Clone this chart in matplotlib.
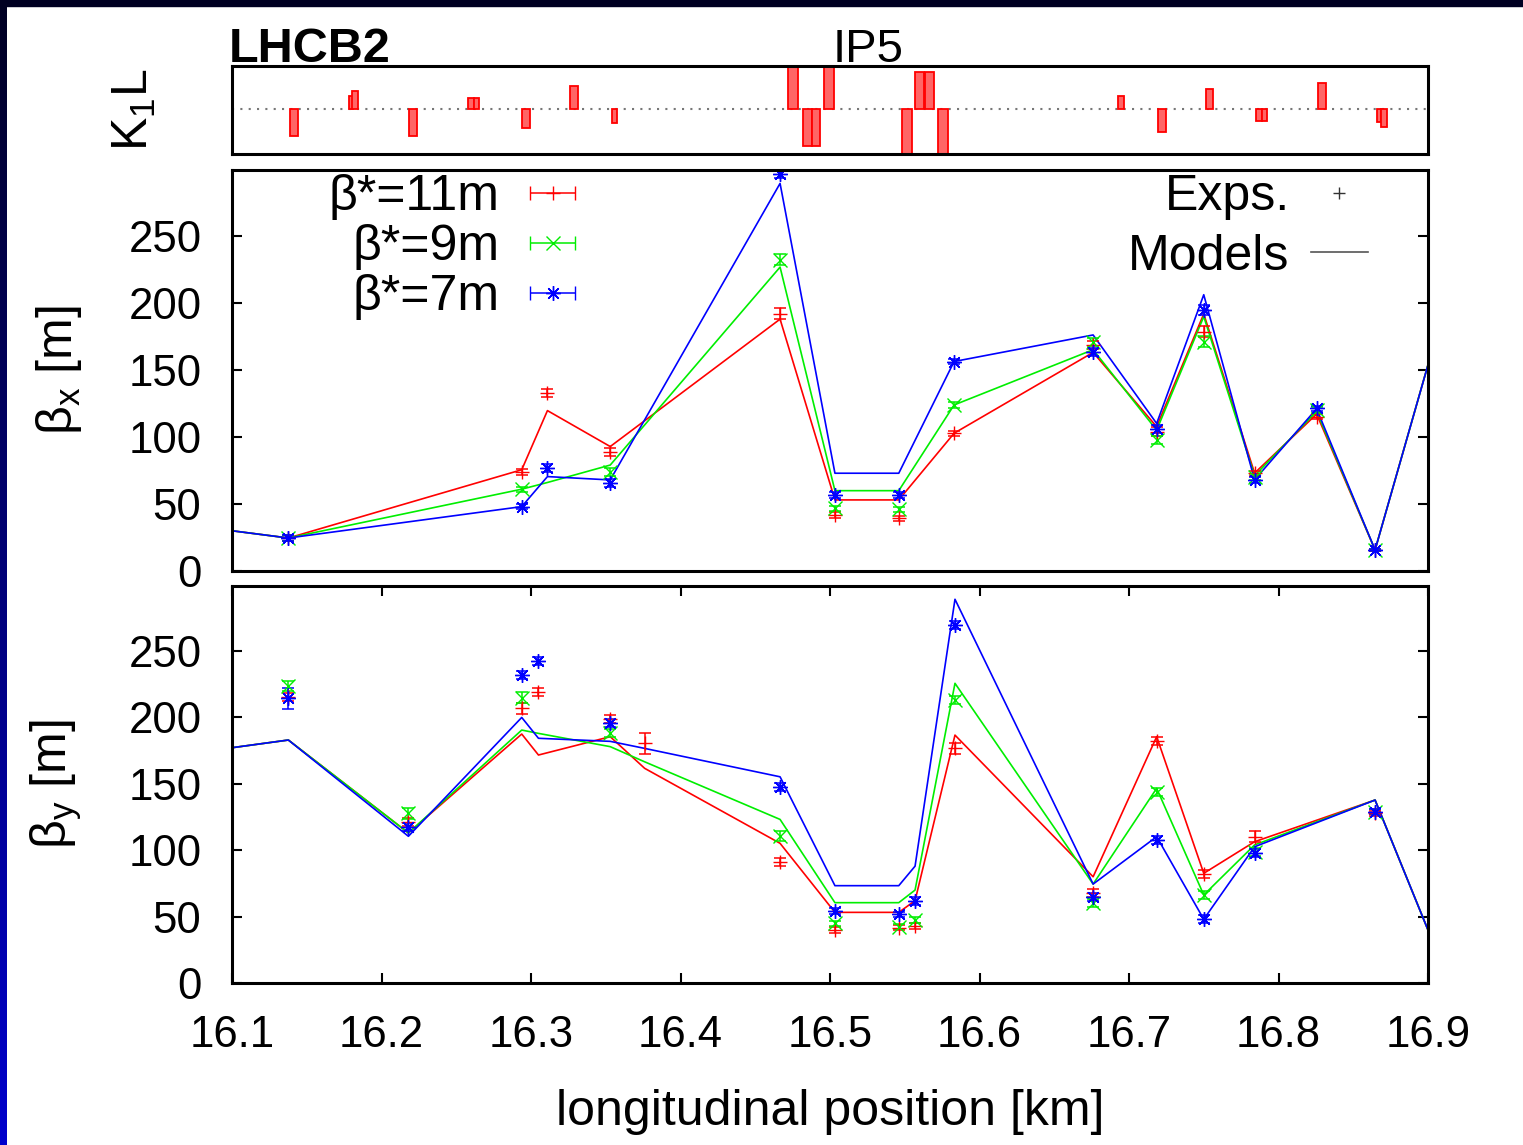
import numpy as np
import matplotlib
matplotlib.use("Agg")
import matplotlib.pyplot as plt
from matplotlib.lines import Line2D
from matplotlib.patches import Rectangle
from matplotlib.colors import LinearSegmentedColormap
from matplotlib.legend_handler import HandlerErrorbar

plt.rcParams["font.family"] = ["Liberation Sans", "DejaVu Sans"]
plt.rcParams["mathtext.fontset"] = "custom"
plt.rcParams["mathtext.rm"] = "Liberation Sans"
plt.rcParams["mathtext.it"] = "Liberation Sans:italic"

nan = np.nan

# optics configurations
labels = ["β*=11m", "β*=9m", "β*=7m"]

# measured beta-x (BPM positions in km)
bx_s = [16.1377, 16.2938, 16.3110, 16.3530, 16.4666, 16.5033, 16.5460,
        16.5830, 16.6760, 16.7185, 16.7500, 16.7840, 16.8255, 16.8646]
bx_11 = [24.6, 73.9, 132.6, 89.0, 192.0, 41.8, 39.3, 102.7, 168.6, 104.0, 178.5, 72.9, 115.0, 15.7]
bx_9 = [24.6, 61.0, nan, 73.6, 232.0, 46.8, 46.0, 123.8, 171.0, 97.7, 171.0, 70.0, 120.0, 15.7]
bx_7 = [24.6, 48.0, 76.6, 65.4, 296.0, 56.7, 56.7, 156.2, 163.6, 106.0, 194.7, 67.9, 121.4, 15.7]
bx_e11 = [2, 2, 3, 3, 4, 2, 2, 2, 3, 3, 4, 2, 2, 1]
bx_e9 = [2, 2, 0, 3, 4, 2, 2, 2, 3, 3, 4, 2, 2, 1]
bx_e7 = [2, 2, 3, 3, 3, 2, 2, 2, 3, 3, 4, 2, 2, 1]

# model beta-x
mx_s = [16.1, 16.1377, 16.2938, 16.3110, 16.3530, 16.4666, 16.5033, 16.5460,
        16.5830, 16.6760, 16.7185, 16.7500, 16.7840, 16.8255, 16.8646, 16.9]
mx_11 = [30, 24.6, 75.5, 119.6, 92.8, 187.8, 53.0, 53.0, 102.7, 163.0, 107.6, 191.7, 73.0, 117.0, 15.7, 153.7]
mx_9 = [30, 24.6, 61.0, 66.0, 79.0, 226.6, 59.9, 59.9, 123.8, 165.0, 105.0, 189.7, 71.0, 119.0, 15.7, 153.7]
mx_7 = [30, 24.6, 48.0, 70.4, 67.9, 289.0, 72.9, 72.9, 156.2, 176.0, 110.0, 206.0, 68.0, 121.0, 15.7, 153.7]

# measured beta-y
by_s = [16.1377, 16.2180, 16.2938, 16.3050, 16.3530, 16.3760, 16.4666, 16.5033,
        16.5460, 16.5569, 16.5836, 16.6760, 16.7185, 16.7500, 16.7840, 16.8646]
by_11 = [215.6, 121.0, 206.8, 219.4, 198.5, 180.5, 90.9, 39.9, 41.6, 42.9, 176.7, 67.5, 182.2, 81.8, 110.2, 127.8]
by_9 = [223.6, 127.8, 215.0, nan, 188.0, nan, 110.7, 45.0, 42.4, 47.4, 213.0, 60.0, 143.6, 66.3, 98.9, 129.0]
by_7 = [214.4, 117.7, 232.0, 242.5, 195.5, nan, 147.8, 54.2, 51.7, 62.0, 269.6, 65.0, 107.7, 48.0, 97.7, 129.0]
by_e11 = [3, 3, 4, 3, 3, 8, 3, 2, 2, 2, 4, 3, 3, 3, 4, 2]
by_e9 = [4, 4, 4, 0, 3, 0, 4, 2, 2, 2, 3, 3, 3, 3, 3, 2]
by_e7 = [8, 3, 3, 3, 3, 0, 3, 2, 2, 3, 3, 3, 3, 3, 3, 2]

# model beta-y
my_s = [16.1, 16.1377, 16.2180, 16.2938, 16.3050, 16.3530, 16.3760, 16.4666, 16.5033,
        16.5460, 16.5569, 16.5836, 16.6760, 16.7185, 16.7500, 16.7840, 16.8646, 16.9]
my_11 = [177.2, 183.0, 113.0, 187.5, 171.7, 185.5, 161.7, 105.2, 53.2, 53.2, 62.0, 186.7, 80.0, 185.5, 82.6, 106.4, 137.8, 39.9]
my_9 = [177.2, 183.0, 113.0, 190.5, 188.0, 178.0, 166.6, 123.2, 60.5, 60.5, 70.0, 225.7, 74.5, 146.6, 66.3, 104.0, 137.8, 39.9]
my_7 = [177.2, 183.0, 110.5, 200.0, 184.3, 182.0, 176.7, 155.3, 73.3, 73.3, 88.0, 289.0, 74.5, 110.2, 48.0, 102.6, 137.8, 39.9]

# quadrupole strengths (start [km], length [km], K1L arb. units)
k_s = [16.1389, 16.1783, 16.1805, 16.2186, 16.2577, 16.2616, 16.2943, 16.3262, 16.3540,
       16.4719, 16.4817, 16.4878, 16.4961, 16.5482, 16.5571, 16.5638, 16.5722,
       16.6928, 16.7195, 16.7513, 16.7852, 16.7888, 16.8265, 16.8659, 16.8688]
k_len = [0.0050, 0.0026, 0.0036, 0.0049, 0.0039, 0.0036, 0.0050, 0.0050, 0.0036,
         0.0064, 0.0061, 0.0055, 0.0066, 0.0065, 0.0055, 0.0055, 0.0064,
         0.0036, 0.0050, 0.0048, 0.0036, 0.0036, 0.0052, 0.0029, 0.0036]
k_val = [-0.64, 0.30, 0.42, -0.62, 0.26, 0.26, -0.45, 0.53, -0.32,
         1.3, -0.87, -0.87, 1.3, -1.3, 0.85, 0.85, -1.3,
         0.31, -0.53, 0.46, -0.27, -0.27, 0.61, -0.30, -0.43]

colors = ["#ff0000", "#00ee00", "#0000ff"]
markers = ["+", "x", (8, 2, 0)]

W, H = 1523, 1145


def frac(x0, y0, x1, y1):
    return [x0 / W, 1 - y1 / H, (x1 - x0) / W, (y1 - y0) / H]


fig = plt.figure(figsize=(W / 100, H / 100), dpi=100)

# slide border
bax = fig.add_axes([0, 0, 7 / W, 1])
bax.imshow(np.linspace(0, 1, 256).reshape(-1, 1), aspect="auto", origin="upper",
           cmap=LinearSegmentedColormap.from_list("edge", ["#000022", "#0000cc"]),
           extent=[0, 1, 0, 1])
bax.axis("off")
fig.add_artist(Rectangle((0, 1 - 6 / H), 1, 6 / H, transform=fig.transFigure,
                         color="#000022", zorder=10))

ax_k = fig.add_axes(frac(232, 66, 1428, 154))
ax_x = fig.add_axes(frac(232, 170, 1428, 571))
ax_y = fig.add_axes(frac(232, 586, 1428, 983))

# K1L panel
ax_k.bar(k_s, k_val, width=k_len, align="edge", facecolor="#ff6666",
         edgecolor="#ff0000", linewidth=1.3, zorder=2)
ax_k.axhline(0, color="#777777", linestyle=(0, (1, 3)), linewidth=1.5, zorder=1)
ax_k.set_xlim(16.1, 16.9)
ax_k.set_ylim(-1.05, 1.0)
ax_k.set_xticks([])
ax_k.set_yticks([])
ax_k.set_ylabel("K$_1$L", fontsize=36)
ax_k.yaxis.set_label_coords(-0.062, 0.5)
ax_k.text(-0.003, 1.045, "LHCB2", transform=ax_k.transAxes, fontsize=35,
          fontweight="bold", va="baseline", ha="left")
ax_k.text(0.532, 1.045, "IP5", transform=ax_k.transAxes, fontsize=34,
          va="baseline", ha="center")

meas_x = [(bx_11, bx_e11), (bx_9, bx_e9), (bx_7, bx_e7)]
model_x = [mx_11, mx_9, mx_7]
meas_y = [(by_11, by_e11), (by_9, by_e9), (by_7, by_e7)]
model_y = [my_11, my_9, my_7]

for ax, s_meas, meas, s_mod, mods in [(ax_x, bx_s, meas_x, mx_s, model_x),
                                      (ax_y, by_s, meas_y, my_s, model_y)]:
    for (vals, errs), mod, c, m in zip(meas, mods, colors, markers):
        ax.plot(s_mod, mod, color=c, linewidth=1.2, zorder=3)
        ax.errorbar(s_meas, vals, yerr=errs, fmt="none", ecolor=c, elinewidth=1.1,
                    capsize=4.5, capthick=1.1, zorder=4)
        ax.plot(s_meas, vals, linestyle="none", marker=m, color=c, markersize=10.5,
                markeredgewidth=1.0, zorder=5)
    ax.set_xlim(16.1, 16.9)
    ax.set_ylim(0, 299)
    ax.set_yticks(np.arange(0, 251, 50))
    ax.tick_params(axis="y", direction="in", length=7, width=1.5, labelsize=31.5,
                   left=True, right=True, pad=22)

for ax in (ax_k, ax_x, ax_y):
    for sp in ax.spines.values():
        sp.set_linewidth(2.2)
        sp.set_zorder(6)

ax_x.tick_params(axis="x", bottom=False, labelbottom=False)
ax_y.set_xticks(np.arange(16.1, 16.91, 0.1))
ax_y.tick_params(axis="x", direction="in", length=7, width=1.5, labelsize=31.5,
                 top=True, bottom=True, pad=23)
ax_y.set_xticklabels([f"{v:.1f}" for v in np.arange(16.1, 16.91, 0.1)])

ax_x.set_ylabel(r"β$_\mathrm{x}$ [m]", fontsize=36)
ax_y.set_ylabel(r"β$_\mathrm{y}$ [m]", fontsize=36)
ax_x.yaxis.set_label_coords(-0.124, 0.5)
ax_y.yaxis.set_label_coords(-0.124, 0.5)
ax_y.set_xlabel("longitudinal position [km]", fontsize=36, labelpad=24)

# legends
leg_handles = [ax_x.errorbar([nan], [nan], xerr=[1], marker=m, linestyle="none",
                             color=c, markersize=10.5, markeredgewidth=1.0,
                             elinewidth=1.1, capsize=5, capthick=1.1)
               for c, m in zip(colors, markers)]
leg1 = ax_x.legend(leg_handles, labels, loc="upper right", bbox_to_anchor=(0.287, 0.99),
                   frameon=False, fontsize=36, markerfirst=False, handlelength=0.9,
                   handletextpad=0.62, labelspacing=0.08, borderpad=0, borderaxespad=0,
                   handler_map={type(leg_handles[0]): HandlerErrorbar(xerr_size=0.45, numpoints=1)})
ax_x.add_artist(leg1)
leg2_handles = [Line2D([], [], linestyle="none", marker="+", color="#333333", markersize=9),
                Line2D([], [], color="#555555", linewidth=1.2)]
ax_x.legend(leg2_handles, ["Exps.", "Models"], loc="upper right",
            bbox_to_anchor=(0.95, 0.99), frameon=False, fontsize=36, markerfirst=False,
            handlelength=1.15, handletextpad=0.42, labelspacing=0.27, borderpad=0,
            borderaxespad=0)

fig.savefig("out.png", dpi=100, facecolor="white")
